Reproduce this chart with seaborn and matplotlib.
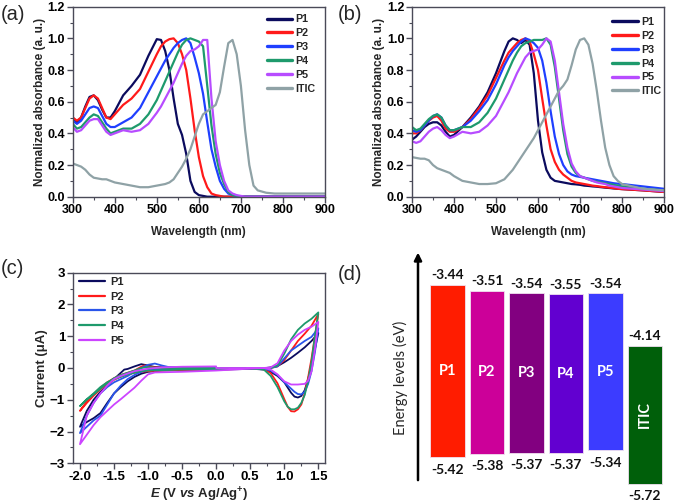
import numpy as np
import pandas as pd
import matplotlib
matplotlib.use("Agg")
import matplotlib.pyplot as plt
from matplotlib.lines import Line2D
from matplotlib.ticker import MultipleLocator, FormatStrFormatter
import seaborn as sns

# ---------------- data: panel (a) solution absorption ----------------
series_names = ["P1", "P2", "P3", "P4", "P5", "ITIC"]
wl_a = [300, 310, 320, 330, 340, 350, 360, 370, 380, 390, 400, 420, 440, 460, 480, 500,
        510, 520, 530, 540, 550, 560, 570, 580, 590, 600, 610, 620, 630, 640, 650, 660,
        670, 680, 690, 700, 710, 720, 730, 740, 760, 780, 800, 850, 900]
a_P1 = [.50, .47, .50, .57, .63, .64, .61, .55, .50, .50, .54, .64, .70, .77, .89, .995,
        .99, .92, .80, .62, .46, .39, .27, .10, .03, .01, .005, 0, 0, 0, 0, 0,
        0, 0, 0, 0, 0, 0, 0, 0, 0, 0, 0, 0, 0]
a_P2 = [.50, .48, .50, .56, .62, .64, .62, .56, .50, .49, .52, .58, .62, .68, .79, .90,
        .95, .98, .995, 1.0, .97, .90, .80, .62, .42, .25, .13, .06, .02, .01, .005, 0,
        0, 0, 0, 0, 0, 0, 0, 0, 0, 0, 0, 0, 0]
a_P3 = [.48, .46, .48, .52, .56, .57, .56, .51, .46, .44, .44, .47, .50, .56, .66, .76,
        .81, .86, .90, .94, .97, .99, 1.0, .97, .88, .78, .65, .47, .30, .19, .10, .05,
        .02, .01, .005, 0, 0, 0, 0, 0, 0, 0, 0, 0, 0]
a_P4 = [.46, .43, .44, .47, .50, .52, .51, .47, .43, .40, .41, .43, .43, .46, .52, .61,
        .67, .73, .79, .85, .91, .96, .99, 1.0, .99, .98, .95, .70, .45, .27, .15, .08,
        .03, .01, .005, 0, 0, 0, 0, 0, 0, 0, 0, 0, 0]
a_P5 = [.44, .41, .42, .45, .48, .49, .49, .45, .41, .39, .40, .42, .41, .42, .46, .53,
        .57, .62, .67, .72, .78, .84, .89, .92, .93, .95, .99, .99, .62, .35, .20, .10,
        .04, .02, .01, .005, 0, 0, 0, 0, 0, 0, 0, 0, 0]
a_ITIC = [.21, .20, .19, .17, .14, .12, .115, .11, .11, .10, .09, .08, .07, .06, .06, .07,
          .075, .08, .09, .11, .15, .19, .24, .30, .38, .46, .52, .54, .56, .58, .66, .82,
          .97, .99, .90, .70, .42, .20, .07, .04, .025, .02, .02, .02, .02]

# ---------------- data: panel (b) film absorption ----------------
wl_b = [300, 310, 320, 330, 340, 350, 360, 370, 380, 390, 400,
        420, 440, 460, 480, 500, 520,
        530, 540, 550, 560, 570, 580, 590, 600, 610, 620, 630, 640, 650, 660, 670, 680,
        690, 700, 710, 720, 730, 740, 750, 760, 770, 780, 790, 800, 850, 900]
b_P1 = [.36, .38, .41, .44, .46, .47, .47, .45, .41, .38, .39,
        .44, .50, .57, .66, .78, .92,
        .98, 1.0, .99, .97, .99, .96, .78, .48, .28, .17, .12, .10, .095, .09, .085, .08,
        .078, .075, .07, .068, .065, .063, .06, .057, .055, .052, .05, .048, .04, .03]
b_P2 = [.40, .40, .42, .45, .48, .50, .51, .48, .43, .41, .41,
        .44, .49, .56, .64, .75, .86,
        .91, .94, .97, .99, 1.0, .98, .90, .80, .62, .45, .30, .22, .17, .14, .12, .10,
        .09, .085, .08, .075, .07, .067, .063, .06, .057, .054, .05, .048, .04, .03]
b_P3 = [.42, .41, .42, .45, .48, .51, .52, .50, .45, .42, .42,
        .44, .48, .54, .61, .71, .83,
        .88, .92, .95, .98, 1.0, .99, .97, .94, .86, .72, .54, .38, .27, .20, .16, .14,
        .13, .125, .12, .115, .11, .105, .10, .095, .09, .085, .082, .08, .065, .05]
b_P4 = [.44, .42, .43, .46, .49, .51, .52, .50, .45, .42, .42,
        .44, .44, .47, .53, .62, .74,
        .80, .86, .91, .95, .97, .98, .99, .99, .99, 1.0, .96, .82, .62, .42, .27, .19,
        .15, .13, .12, .11, .10, .095, .09, .085, .08, .075, .07, .065, .05, .04]
b_P5 = [.35, .34, .35, .38, .41, .43, .44, .42, .39, .37, .38,
        .41, .40, .41, .45, .51, .61,
        .66, .72, .78, .83, .88, .91, .92, .93, .96, 1.0, .98, .86, .66, .46, .31, .21,
        .16, .13, .12, .11, .10, .09, .085, .08, .07, .065, .06, .055, .045, .035]
b_ITIC = [.25, .245, .24, .24, .23, .20, .18, .17, .16, .15, .13,
          .10, .09, .08, .08, .085, .11,
          .14, .17, .21, .25, .29, .33, .37, .42, .47, .52, .57, .62, .67, .70, .74, .83,
          .93, .99, 1.0, .96, .84, .67, .48, .31, .20, .13, .10, .08, .05, .04]

# ---------------- data: panel (c) cyclic voltammetry ----------------
cv_names = ["P1", "P2", "P3", "P4", "P5"]
cv_E_P1 = [0, -0.5, -0.9, -1.0, -1.1, -1.2, -1.3, -1.35, -1.4, -1.5, -1.6, -1.7, -1.8, -1.9, -2.0,
           -1.9, -1.8, -1.7, -1.6, -1.5, -1.4, -1.3, -1.2, -1.1, -1.0, -0.8, -0.5, 0.0,
           0.5, 0.7, 0.8, 0.9, 1.0, 1.1, 1.2, 1.3, 1.4, 1.5,
           1.45, 1.4, 1.35, 1.3, 1.25, 1.2, 1.15, 1.1, 1.0, 0.9, 0.8, 0.7, 0.5, 0.0]
cv_I_P1 = [0.0, 0.0, 0.03, 0.08, 0.12, 0.05, -0.03, -0.05, -0.15, -0.35, -0.55, -0.75, -1.0, -1.35, -1.85,
           -1.7, -1.58, -1.42, -1.1, -0.8, -0.6, -0.42, -0.28, -0.18, -0.12, -0.08, -0.06, -0.05,
           -0.03, -0.01, 0.02, 0.06, 0.18, 0.32, 0.48, 0.65, 0.85, 1.1,
           0.6, 0.1, -0.35, -0.7, -0.88, -0.93, -0.9, -0.78, -0.45, -0.25, -0.12, -0.05, -0.02, -0.03]
cv_E_P2 = [0, -0.5, -0.9, -1.0, -1.05, -1.1, -1.2, -1.3, -1.4, -1.5, -1.6, -1.7, -1.8, -1.9, -2.0,
           -1.9, -1.8, -1.7, -1.6, -1.5, -1.4, -1.3, -1.2, -1.1, -1.0, -0.8, -0.5, 0.0,
           0.5, 0.7, 0.8, 0.9, 1.0, 1.1, 1.2, 1.3, 1.4, 1.5,
           1.45, 1.4, 1.35, 1.3, 1.25, 1.2, 1.15, 1.1, 1.05, 1.0, 0.9, 0.8, 0.7, 0.5, 0.0]
cv_I_P2 = [0.0, 0.0, 0.02, 0.06, 0.08, 0.04, -0.08, -0.15, -0.22, -0.32, -0.45, -0.62, -0.82, -1.05, -1.35,
           -1.1, -0.87, -0.67, -0.5, -0.37, -0.27, -0.2, -0.15, -0.12, -0.1, -0.08, -0.06, -0.05,
           -0.02, -0.01, 0.0, 0.05, 0.25, 0.55, 0.85, 1.08, 1.33, 1.7,
           1.0, 0.3, -0.3, -0.8, -1.15, -1.3, -1.37, -1.36, -1.22, -0.98, -0.48, -0.16, -0.04, 0.0, 0.0]
cv_E_P3 = [0, -0.5, -0.7, -0.8, -0.9, -1.0, -1.1, -1.2, -1.3, -1.4, -1.5, -1.6, -1.7, -1.8, -1.9, -2.0,
           -1.9, -1.8, -1.7, -1.6, -1.5, -1.4, -1.3, -1.2, -1.1, -1.0, -0.5, 0.0,
           0.5, 0.7, 0.8, 0.9, 1.0, 1.1, 1.2, 1.3, 1.4, 1.5,
           1.45, 1.4, 1.35, 1.3, 1.25, 1.2, 1.15, 1.1, 1.0, 0.9, 0.8, 0.7, 0.5, 0.0]
cv_I_P3 = [0.0, 0.02, 0.03, 0.08, 0.14, 0.1, 0.0, -0.12, -0.25, -0.35, -0.45, -0.6, -0.8, -1.1, -1.5, -2.05,
           -1.85, -1.65, -1.5, -1.15, -0.8, -0.55, -0.35, -0.22, -0.12, -0.06, -0.03, -0.02,
           -0.02, -0.01, 0.0, 0.05, 0.3, 0.55, 0.7, 0.85, 0.98, 1.25,
           0.5, -0.1, -0.5, -0.75, -0.83, -0.82, -0.75, -0.65, -0.45, -0.22, -0.08, -0.02, 0.0, 0.0]
cv_E_P4 = [0, -0.5, -0.9, -1.0, -1.1, -1.2, -1.3, -1.4, -1.5, -1.6, -1.7, -1.8, -1.9, -2.0,
           -1.9, -1.8, -1.7, -1.6, -1.5, -1.4, -1.3, -1.2, -1.1, -1.0, -0.5, 0.0,
           0.5, 0.7, 0.8, 0.9, 1.0, 1.1, 1.2, 1.3, 1.4, 1.5,
           1.45, 1.4, 1.35, 1.3, 1.25, 1.2, 1.15, 1.1, 1.05, 1.0, 0.9, 0.8, 0.7, 0.5, 0.0]
cv_I_P4 = [0.0, 0.0, 0.01, 0.03, 0.0, -0.08, -0.15, -0.22, -0.32, -0.48, -0.65, -0.83, -1.0, -1.2,
           -0.98, -0.8, -0.6, -0.45, -0.35, -0.28, -0.2, -0.15, -0.1, -0.08, -0.05, -0.04,
           -0.02, -0.01, 0.0, 0.08, 0.45, 0.9, 1.2, 1.4, 1.55, 1.75,
           1.0, 0.2, -0.4, -0.85, -1.1, -1.25, -1.3, -1.3, -1.22, -1.05, -0.6, -0.25, -0.05, 0.0, 0.0]
cv_E_P5 = [0, -0.5, -0.8, -1.0, -1.2, -1.4, -1.5, -1.6, -1.7, -1.8, -1.9, -2.0,
           -1.9, -1.8, -1.7, -1.6, -1.5, -1.4, -1.3, -1.2, -1.1, -1.0, -0.9, -0.5, 0.0,
           0.5, 0.7, 0.8, 0.9, 1.0, 1.1, 1.2, 1.3, 1.4, 1.5,
           1.45, 1.4, 1.35, 1.3, 1.2, 1.1, 1.0, 0.9, 0.8, 0.7, 0.5, 0.0]
cv_I_P5 = [0.05, 0.04, 0.02, -0.02, -0.1, -0.25, -0.35, -0.55, -0.8, -1.1, -1.5, -2.4,
           -2.1, -1.8, -1.55, -1.35, -1.15, -0.98, -0.8, -0.62, -0.4, -0.2, -0.14, -0.12, -0.08,
           -0.02, 0.0, 0.02, 0.15, 0.55, 0.85, 1.05, 1.2, 1.3, 1.45,
           0.6, -0.1, -0.4, -0.5, -0.52, -0.52, -0.42, -0.2, -0.05, 0.0, 0.0, 0.0]

# ---------------- data: panel (d) energy levels ----------------
level_names = ["P1", "P2", "P3", "P4", "P5", "ITIC"]
lumo = [-3.44, -3.51, -3.54, -3.55, -3.54, -4.14]
homo = [-5.42, -5.38, -5.37, -5.37, -5.34, -5.72]

# ---------------- style ----------------
sns.set_theme(style="ticks")
plt.rcParams["font.family"] = ["Liberation Sans", "DejaVu Sans"]
plt.rcParams["font.weight"] = "bold"
plt.rcParams["axes.labelweight"] = "bold"
plt.rcParams["mathtext.fontset"] = "custom"
plt.rcParams["mathtext.rm"] = "Liberation Sans:bold"
plt.rcParams["mathtext.it"] = "Liberation Sans:italic:bold"
plt.rcParams["mathtext.bf"] = "Liberation Sans:bold"

line_colors = {"P1": "#0b0b5e", "P2": "#ff1a1a", "P3": "#1f3fff", "P4": "#1e9a6c",
               "P5": "#b74cff", "ITIC": "#8fa2a6"}
cv_colors = {"P1": "#0b0b5e", "P2": "#ff1a1a", "P3": "#2a55ea", "P4": "#1e9a6c", "P5": "#cc44ff"}
bar_colors = ["#ff1c00", "#cc0099", "#820080", "#6200d0", "#3c3cff", "#005f0a"]
spine_col = "#4a4a58"

W, H = 676, 504
fig = plt.figure(figsize=(W / 100, H / 100), dpi=100)


def rect(l, t, r, b):
    return [l / W, 1 - b / H, (r - l) / W, (b - t) / H]


def style_axes(ax, size):
    for s in ax.spines.values():
        s.set_color(spine_col)
        s.set_linewidth(1.0)
    ax.tick_params(which="both", direction="out", colors=spine_col, labelcolor="black",
                   labelsize=size, top=False, right=False)
    ax.tick_params(which="major", length=4, width=1, pad=1.5)
    ax.tick_params(which="minor", length=2.5, width=0.8)
    for lab in ax.get_xticklabels() + ax.get_yticklabels():
        lab.set_fontweight("bold")


def abs_panel(ax, wl, vals, anchor):
    df = pd.DataFrame({"wl": np.tile(wl, len(series_names)),
                       "A": np.concatenate(vals),
                       "series": np.repeat(series_names, len(wl))})
    sns.lineplot(data=df, x="wl", y="A", hue="series", palette=line_colors,
                 hue_order=series_names, linewidth=1.6, estimator=None, legend=False, ax=ax)
    ax.set_xlim(300, 900)
    ax.set_ylim(0, 1.2)
    ax.xaxis.set_major_locator(MultipleLocator(100))
    ax.xaxis.set_minor_locator(MultipleLocator(50))
    ax.yaxis.set_major_locator(MultipleLocator(0.2))
    ax.yaxis.set_minor_locator(MultipleLocator(0.1))
    ax.yaxis.set_major_formatter(FormatStrFormatter("%.1f"))
    ax.set_xlabel("Wavelength (nm)", fontsize=8.5, fontweight="bold", labelpad=7)
    ax.set_ylabel("Normalized absorbance (a. u.)", fontsize=8.5, fontweight="bold", labelpad=1)
    style_axes(ax, 9)
    handles = [Line2D([], [], color=line_colors[n], lw=2.4) for n in series_names]
    ax.legend(handles, series_names, loc="upper left", bbox_to_anchor=anchor, frameon=False,
              borderpad=0, borderaxespad=0, handlelength=2.4, handletextpad=0.3,
              labelspacing=0.36, prop={"weight": "bold", "size": 7.7})


# (a)
ax_a = fig.add_axes(rect(72.7, 6.7, 325, 196.7))
abs_panel(ax_a, wl_a, [a_P1, a_P2, a_P3, a_P4, a_P5, a_ITIC], (0.769, 0.960))
# (b)
ax_b = fig.add_axes(rect(412, 6.7, 664, 196.7))
abs_panel(ax_b, wl_b, [b_P1, b_P2, b_P3, b_P4, b_P5, b_ITIC], (0.794, 0.946))

# (c)
ax_c = fig.add_axes(rect(72.7, 272.7, 325, 463.3))
cv_E = [cv_E_P1, cv_E_P2, cv_E_P3, cv_E_P4, cv_E_P5]
cv_I = [cv_I_P1, cv_I_P2, cv_I_P3, cv_I_P4, cv_I_P5]
for n, e, i in zip(cv_names, cv_E, cv_I):
    sns.lineplot(x=e, y=i, sort=False, estimator=None, color=cv_colors[n],
                 linewidth=1.3, ax=ax_c)
ax_c.set_xlim(-2.107, 1.598)
ax_c.set_ylim(-3, 3)
ax_c.xaxis.set_major_locator(MultipleLocator(0.5))
ax_c.xaxis.set_minor_locator(MultipleLocator(0.25))
ax_c.xaxis.set_major_formatter(FormatStrFormatter("%.1f"))
ax_c.yaxis.set_major_locator(MultipleLocator(1))
ax_c.yaxis.set_minor_locator(MultipleLocator(0.5))
ax_c.set_xlabel(r"$\it{E}$ (V $\it{vs}$ Ag/Ag$^{+}$)", fontsize=9.5, fontweight="bold", labelpad=2)
ax_c.set_ylabel("Current (μA)", fontsize=9.5, fontweight="bold", labelpad=1)
style_axes(ax_c, 9.5)
cv_handles = [Line2D([], [], color=cv_colors[n], lw=1.6) for n in cv_names]
ax_c.legend(cv_handles, cv_names, loc="upper left", bbox_to_anchor=(0.025, 0.978), frameon=False,
            borderpad=0, borderaxespad=0, handlelength=2.3, handletextpad=0.5,
            labelspacing=0.42, prop={"weight": "bold", "size": 8})

# (d)
ax_d = fig.add_axes(rect(418, 250, 676, 504))
xpos = np.arange(len(level_names))
heights = [l - h for l, h in zip(lumo, homo)]
ax_d.bar(xpos, heights, bottom=homo, width=0.872, color=bar_colors, edgecolor="#f0e0f0",
         linewidth=0.6)
ax_d.set_xlim(-0.748, 5.79)
ax_d.set_ylim(-5.954, -3.044)
ax_d.axis("off")
ax_d.annotate("", xy=(0, 0.99), xytext=(0, 0.094), xycoords="axes fraction",
              arrowprops=dict(arrowstyle="-|>", lw=1.8, color="black", mutation_scale=11,
                              shrinkA=0, shrinkB=0), annotation_clip=False)
dfont = ["Lato", "DejaVu Sans"]
for x, n, l, h in zip(xpos, level_names, lumo, homo):
    ax_d.annotate(f"{l:.2f}", (x, l), xytext=(0, 2.5), textcoords="offset points",
                  ha="center", va="bottom", fontsize=10, family=dfont, fontweight="bold",
                  color="#111111")
    ax_d.annotate(f"{h:.2f}", (x, h), xytext=(0, -4.5), textcoords="offset points",
                  ha="center", va="top", fontsize=10, family=dfont, fontweight="bold",
                  color="#111111")
    ax_d.text(x, (l + h) / 2, n, ha="center", va="center", color="white", fontsize=10.5,
              family=dfont, fontweight="bold", rotation=90 if n == "ITIC" else 0)
fig.text(400 / W, 1 - 378 / H, "Energy levels (eV)", rotation=90, ha="center", va="center",
         fontsize=10.5, family=dfont, fontweight="normal")

# panel letters
for lab, x, y in [("(a)", 1, 14), ("(b)", 338, 14), ("(c)", 1, 269), ("(d)", 338, 275)]:
    fig.text(x / W, 1 - y / H, lab, ha="left", va="center", fontsize=14.5, fontweight="normal",
             family=["Liberation Sans", "DejaVu Sans"])

fig.savefig("out.png", dpi=100)
